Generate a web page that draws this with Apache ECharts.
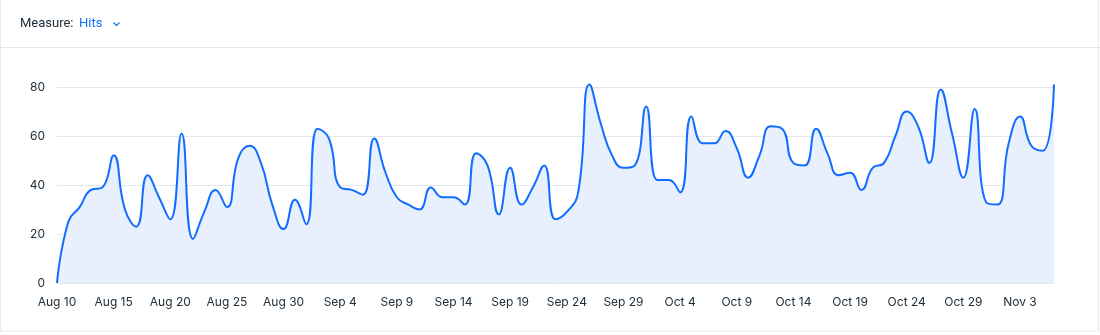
<!DOCTYPE html>
<html>
<head>
<meta charset="utf-8">
<title>Hits</title>
<script src="https://cdn.jsdelivr.net/npm/echarts@6/dist/echarts.min.js"></script>
<style>
  html, body { margin: 0; padding: 0; background: #ffffff; }
  #chart { width: 1100px; height: 335px; }
</style>
</head>
<body>
<div id="chart"></div>
<script>
// Daily hits, Aug 10 – Nov 6
const days = [
  'Aug 10','Aug 11','Aug 12','Aug 13','Aug 14','Aug 15','Aug 16','Aug 17','Aug 18','Aug 19',
  'Aug 20','Aug 21','Aug 22','Aug 23','Aug 24','Aug 25','Aug 26','Aug 27','Aug 28','Aug 29',
  'Aug 30','Aug 31','Sep 1','Sep 2','Sep 3','Sep 4','Sep 5','Sep 6','Sep 7','Sep 8',
  'Sep 9','Sep 10','Sep 11','Sep 12','Sep 13','Sep 14','Sep 15','Sep 16','Sep 17','Sep 18',
  'Sep 19','Sep 20','Sep 21','Sep 22','Sep 23','Sep 24','Sep 25','Sep 26','Sep 27','Sep 28',
  'Sep 29','Sep 30','Oct 1','Oct 2','Oct 3','Oct 4','Oct 5','Oct 6','Oct 7','Oct 8',
  'Oct 9','Oct 10','Oct 11','Oct 12','Oct 13','Oct 14','Oct 15','Oct 16','Oct 17','Oct 18',
  'Oct 19','Oct 20','Oct 21','Oct 22','Oct 23','Oct 24','Oct 25','Oct 26','Oct 27','Oct 28',
  'Oct 29','Oct 30','Oct 31','Nov 1','Nov 2','Nov 3','Nov 4','Nov 5','Nov 6'
];

const hits = [
  0, 25, 31, 38, 39, 52, 30, 23, 44, 35,
  26, 61, 18, 29, 38, 31, 51, 56, 49, 32,
  22, 34, 24, 63, 59, 39, 38, 36, 59, 45,
  35, 32, 30, 39, 35, 35, 32, 53, 48, 28,
  47, 32, 39, 48, 26, 29, 37, 81, 65, 52,
  47, 48, 72, 42, 42, 37, 68, 57, 57, 62,
  55, 43, 52, 64, 63, 49, 48, 63, 53, 44,
  45, 38, 47, 49, 60, 70, 64, 49, 79, 61,
  43, 71, 33, 32, 57, 68, 56, 54, 81
];

const yTicks = [0, 20, 40, 60, 80];

const measureLabel = 'Measure:';
const measureValue = 'Hits';

const font = 'Inter, "Noto Sans", sans-serif';
const headerFont = '13px Roboto, "Noto Sans", sans-serif';
const textColor = '#20303c';
const accent = '#116dff';
const gridColor = '#e3e6ea';

const chart = echarts.init(document.getElementById('chart'), null, { renderer: 'canvas' });

chart.setOption({
  animation: false,
  backgroundColor: '#ffffff',
  textStyle: { fontFamily: font },
  graphic: [
    // outer frame
    { type: 'rect', z: -1,
      shape: { x: 0.5, y: -2, width: 1098, height: 333 },
      style: { fill: 'none', stroke: '#e6e8eb', lineWidth: 1 } },
    // header separator
    { type: 'line', shape: { x1: 0, y1: 47.5, x2: 1100, y2: 47.5 },
      style: { stroke: '#e3e6ea', lineWidth: 1 } },
    { type: 'text', x: 20, y: 24,
      style: { text: measureLabel, fill: textColor, font: headerFont, textVerticalAlign: 'middle' } },
    { type: 'text', x: 79, y: 24,
      style: { text: measureValue, fill: accent, font: headerFont, textVerticalAlign: 'middle' } },
    // dropdown chevron
    { type: 'polyline', shape: { points: [[113.5, 22.5], [116.5, 25.5], [119.5, 22.5]] },
      style: { stroke: accent, lineWidth: 1.2, fill: 'none' } }
  ],
  grid: { left: 57, right: 46, top: 87, bottom: 52, containLabel: false },
  xAxis: {
    type: 'category',
    data: days,
    boundaryGap: false,
    axisLine: { show: false },
    axisTick: { show: false },
    axisLabel: {
      interval: 4,
      color: textColor,
      fontSize: 12,
      margin: 13,
      fontFamily: font
    },
    splitLine: { show: false }
  },
  yAxis: {
    type: 'value',
    min: yTicks[0],
    max: yTicks[yTicks.length - 1],
    interval: 20,
    axisLine: { show: false },
    axisTick: { show: false },
    axisLabel: {
      color: textColor,
      fontSize: 12,
      margin: 12,
      fontFamily: font
    },
    splitLine: { show: true, lineStyle: { color: gridColor, width: 1 } }
  },
  series: [{
    type: 'line',
    name: measureValue,
    data: hits,
    smooth: 0.5,
    clip: false,
    showSymbol: false,
    lineStyle: { color: accent, width: 2 },
    itemStyle: { color: accent },
    areaStyle: { color: '#e8effd', opacity: 1 }
  }]
});
</script>
</body>
</html>
